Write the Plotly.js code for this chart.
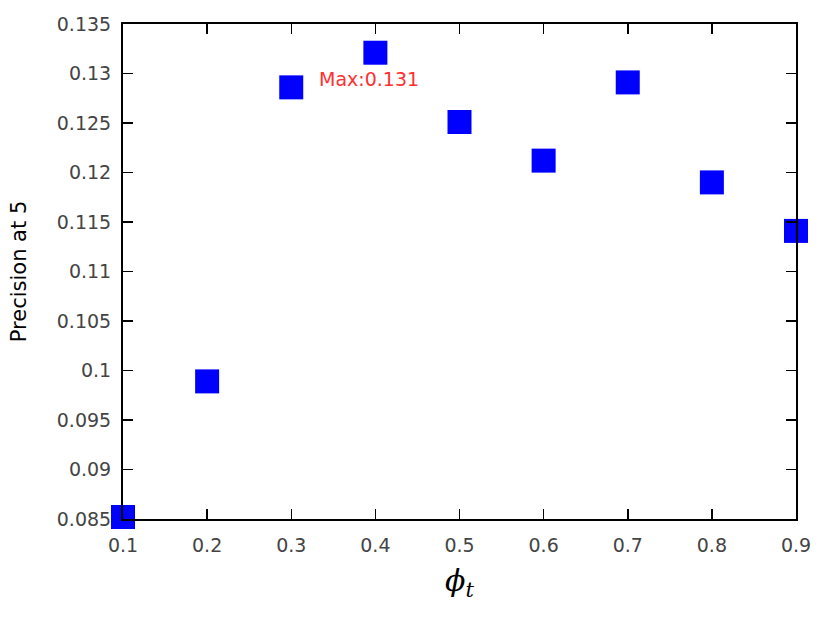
<!DOCTYPE html>
<html><head><meta charset="utf-8">
<script src="https://cdn.plot.ly/plotly-3.0.1.min.js"></script>
<style>html,body{margin:0;padding:0;background:#fff}#chart{width:830px;height:623px}</style>
</head><body><div id="chart"></div>
<script>
const phiT = [0.1, 0.2, 0.3, 0.4, 0.5, 0.6, 0.7, 0.8, 0.9];
const precisionAt5 = [0.0852, 0.0989, 0.1286, 0.1321, 0.1251, 0.1212, 0.1291, 0.1190, 0.1141];
const maxLabel = "Max:0.131";
const maxLabelPos = [0.331, 0.1294];

const axisCommon = {
  showline: true, linecolor: '#000', linewidth: 2, mirror: 'ticks',
  ticks: 'inside', ticklen: 10, tickwidth: 1.5, tickcolor: '#000',
  showgrid: false, zeroline: false,
  tickfont: {family: 'DejaVu Sans', size: 19, color: '#444'}
};

Plotly.newPlot('chart', [{
  x: phiT, y: precisionAt5, type: 'scatter', mode: 'markers',
  marker: {symbol: 'square', size: 24, color: '#0000ff'},
  cliponaxis: false, showlegend: false
}], {
  width: 830, height: 623,
  margin: {l: 123, r: 34, t: 24, b: 104},
  paper_bgcolor: '#fff', plot_bgcolor: '#fff',
  xaxis: Object.assign({}, axisCommon, {
    range: [0.1, 0.9], tick0: 0.1, dtick: 0.1, ticklabelstandoff: 8,
    title: {text: '<i>ϕ</i><sub><i>t</i></sub>', font: {family: 'DejaVu Serif', size: 30, color: '#000'}, standoff: 15}
  }),
  yaxis: Object.assign({}, axisCommon, {
    range: [0.085, 0.135], tick0: 0.085, dtick: 0.005, ticklabelstandoff: 6,
    title: {text: 'Precision at 5', font: {family: 'DejaVu Sans', size: 21, color: '#000'}, standoff: 24}
  }),
  annotations: [{
    x: maxLabelPos[0], y: maxLabelPos[1], xref: 'x', yref: 'y',
    text: maxLabel, showarrow: false, xanchor: 'left', yanchor: 'middle',
    font: {family: 'DejaVu Sans', size: 19, color: '#ff3030'}
  }]
}, {displayModeBar: false, staticPlot: true});
</script></body></html>
